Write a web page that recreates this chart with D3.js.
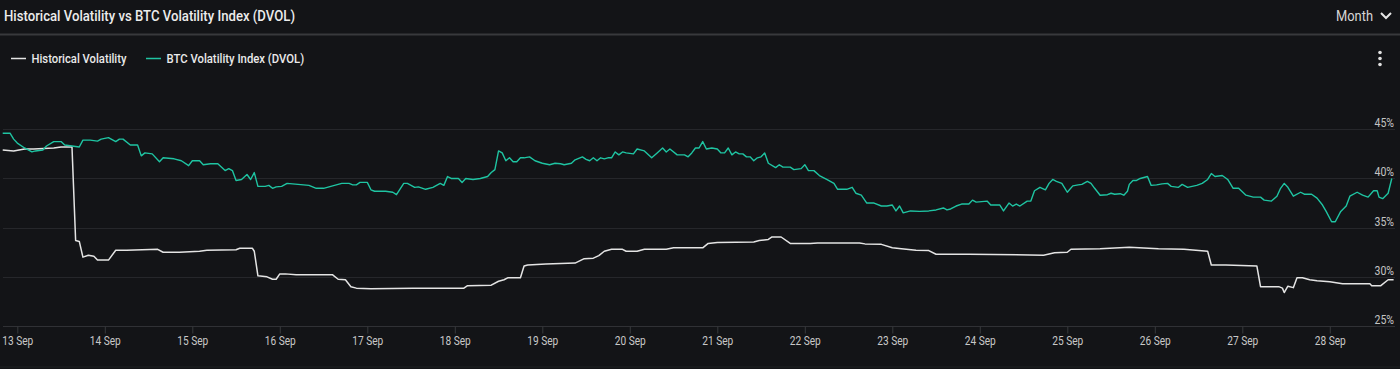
<!DOCTYPE html>
<html>
<head>
<meta charset="utf-8">
<script src="https://cdn.jsdelivr.net/npm/d3@7"></script>
<style>
  body { margin: 0; background: #131417; }
  svg { display: block; font-family: Roboto, "Noto Sans", sans-serif; }
</style>
</head>
<body>
<div id="chart"></div>
<script>
// hours counted from 13 Sep 00:00, values in %
var hvHours = [-4, -1, 2, 4.5, 10, 12, 15, 16, 17, 18, 19.5, 21, 22, 25, 27, 30, 38.5, 40, 44.5, 50, 52, 60, 61, 64.5, 65, 66, 68.5, 70, 71, 72, 73.5, 76.5, 86.5, 88, 90, 91.5, 93, 97, 108.5, 122.5, 123.5, 130, 132, 133.5, 134.5, 138, 139, 140, 145, 153, 155.5, 158, 159.5, 161, 163, 166, 167, 170, 172, 178, 180, 188, 189.5, 192, 202, 203.5, 206, 207, 209.5, 212, 217.5, 219.5, 231, 232.5, 237, 240, 242.5, 246.5, 250, 252, 261, 281.5, 284.5, 288, 289, 297, 305, 313, 320, 326.5, 327.5, 331.5, 340, 341, 346, 347, 347.5, 348.5, 350, 351, 352.5, 354.5, 356.5, 360, 363.5, 371, 371.5, 374, 376, 377.5];
var hvValues = [42.9, 42.8, 43.0, 43.0, 43.1, 43.2, 43.2, 33.7, 33.6, 32.0, 32.2, 32.1, 31.7, 31.7, 32.7, 32.7, 32.8, 32.5, 32.5, 32.6, 32.7, 32.75, 32.9, 32.9, 32.6, 30.1, 30.0, 29.75, 29.75, 30.3, 30.3, 30.2, 30.2, 29.75, 29.7, 29.0, 28.85, 28.8, 28.85, 28.85, 29.1, 29.15, 29.55, 29.7, 29.9, 29.9, 31.1, 31.2, 31.3, 31.4, 31.85, 31.9, 32.15, 32.6, 32.8, 32.8, 32.6, 32.6, 32.8, 32.8, 32.95, 32.95, 33.4, 33.5, 33.55, 33.7, 33.8, 34.05, 34.05, 33.4, 33.4, 33.45, 33.45, 33.35, 33.3, 32.95, 32.85, 32.7, 32.67, 32.3, 32.3, 32.2, 32.45, 32.5, 32.8, 32.85, 33.0, 32.85, 32.8, 32.6, 31.2, 31.2, 31.1, 29.0, 29.0, 28.85, 28.4, 29.05, 28.9, 29.9, 29.9, 29.7, 29.6, 29.5, 29.3, 29.3, 29.1, 29.1, 29.7, 29.7];

var dvolHours = [-4, -2, -1, 0, 2, 4, 5, 7, 8, 10, 12, 13, 15, 17, 18, 20, 22, 23, 25, 27, 28, 29, 31, 33, 34, 35, 37, 39, 40, 43, 45, 47, 48, 50, 51, 53, 55, 57, 58, 59, 60, 61.5, 63, 64, 65, 66, 68, 69, 70, 71, 72.5, 74, 77, 80, 82, 84, 87, 89, 91, 92, 93, 94, 96, 97, 98, 101, 103, 104, 106, 107, 109, 110, 112, 114, 116, 117, 118, 119, 121, 122, 123, 125, 127, 129, 130, 131, 132, 133, 134, 135, 136, 137, 138, 139, 140.5, 142, 144, 146, 147.5, 149, 150, 152, 153, 155, 156, 157, 158, 159, 160, 161, 162, 163, 164, 165, 166, 167, 169, 170, 172, 174, 175.5, 177, 178, 179, 181, 183, 184, 185, 186, 187, 188, 189, 190.5, 192, 193, 194, 195, 196, 197, 198, 199, 200, 201, 202, 203, 204, 205, 206, 208, 209, 210, 212, 213, 215, 216, 217, 218.5, 220, 222, 224, 225, 227.5, 229, 230, 231.5, 233, 235, 237, 238.5, 240, 241, 242, 243, 245, 247.5, 250, 252, 254, 255, 256, 257.5, 259, 261, 262, 263, 266, 267, 269.5, 270.5, 272, 273, 274, 275, 277, 278, 279, 280.5, 282, 283, 284, 285, 286.5, 288, 289.5, 291, 292, 293.5, 294.5, 295.5, 297, 299, 300, 301, 302.5, 303.5, 304.5, 305, 306, 307, 308, 310, 311, 312.5, 314, 315.5, 316.5, 318.5, 319.5, 321, 323.5, 325, 326.5, 327.5, 328.5, 330.5, 332, 333.5, 335, 337, 339, 341, 342, 344, 345.5, 346.5, 347.5, 348.5, 350, 352, 353, 355, 356.5, 358, 359, 360.5, 361.5, 363, 364.5, 365.5, 367.5, 369, 370.5, 372, 373, 373.5, 374.5, 376, 377];
var dvolValues = [44.6, 44.6, 44.0, 43.6, 43.1, 42.7, 42.8, 42.9, 43.3, 43.75, 43.75, 43.4, 43.3, 43.2, 43.9, 43.9, 43.8, 44.0, 44.15, 43.75, 44.0, 44.0, 43.4, 43.4, 42.3, 42.6, 42.5, 41.7, 42.1, 42.0, 41.8, 41.3, 41.8, 41.8, 41.4, 41.5, 41.5, 40.8, 41.0, 40.8, 39.8, 39.9, 40.4, 39.9, 40.6, 39.2, 39.2, 39.3, 39.0, 39.15, 39.2, 39.5, 39.4, 39.3, 39.0, 39.0, 39.3, 39.5, 39.5, 39.35, 39.35, 39.6, 39.6, 38.85, 38.7, 38.7, 38.6, 38.35, 39.5, 39.5, 39.1, 39.15, 38.9, 39.1, 39.5, 39.3, 40.2, 40.0, 40.0, 39.6, 40.0, 39.9, 40.0, 40.2, 40.6, 40.9, 42.8, 42.6, 41.8, 42.1, 41.7, 41.7, 42.1, 42.1, 42.2, 41.8, 41.55, 41.4, 41.55, 41.5, 41.4, 41.55, 41.9, 42.2, 41.95, 41.8, 42.1, 41.8, 42.1, 42.0, 42.1, 42.1, 42.7, 42.4, 42.7, 42.6, 42.5, 43.0, 42.8, 42.1, 42.6, 43.1, 42.7, 43.0, 42.4, 42.4, 42.2, 42.6, 43.1, 43.1, 43.75, 43.0, 43.1, 43.0, 42.6, 42.6, 43.1, 42.4, 42.7, 42.5, 42.5, 42.2, 42.2, 41.8, 42.1, 42.2, 42.6, 41.55, 41.1, 41.4, 41.15, 41.15, 40.9, 41.0, 41.4, 40.8, 40.8, 40.3, 39.9, 39.5, 38.9, 38.9, 39.1, 38.5, 38.3, 37.5, 37.5, 37.2, 37.2, 37.3, 36.7, 37.2, 36.5, 36.7, 36.65, 36.7, 36.8, 37.0, 36.8, 36.9, 37.2, 37.4, 37.4, 37.8, 37.6, 37.7, 37.3, 37.3, 36.7, 37.5, 37.2, 37.4, 37.2, 37.7, 37.7, 38.75, 39.1, 38.85, 39.5, 39.9, 39.7, 39.5, 38.6, 39.25, 39.35, 39.4, 39.7, 39.5, 39.0, 38.3, 38.35, 38.5, 38.4, 38.45, 38.3, 38.7, 39.4, 39.8, 39.8, 40.0, 40.2, 39.3, 39.35, 39.45, 39.5, 39.2, 39.1, 39.4, 39.1, 39.3, 39.5, 39.9, 40.5, 40.2, 40.3, 39.9, 39.0, 39.0, 38.3, 38.1, 38.1, 37.8, 37.7, 38.2, 39.0, 39.5, 39.1, 38.2, 38.6, 38.4, 38.4, 38.0, 37.3, 36.65, 35.6, 35.6, 36.65, 37.2, 38.2, 38.6, 38.3, 38.1, 38.75, 38.75, 38.1, 37.95, 38.5, 40.0];

var yTicks = [25, 30, 35, 40, 45];
var seriesNames = ["Historical Volatility", "BTC Volatility Index (DVOL)"];
var seriesColors = ["#e4e4e4", "#1fc4a2"];

var svgWidth = 1400;
var svgHeight = 369;
var start = Date.UTC(2023, 8, 13);
function toDate(h) { return new Date(start + h * 3600000); }

var svg = d3.select("#chart")
    .append("svg")
    .attr("width", svgWidth)
    .attr("height", svgHeight);

svg.append("rect")
    .attr("width", svgWidth)
    .attr("height", svgHeight)
    .attr("fill", "#131417");

// fit text to a width, the source screenshot is squeezed horizontally
function fit(sel, w) {
    sel.attr("textLength", w).attr("lengthAdjust", "spacingAndGlyphs");
}

// header
svg.append("text")
    .attr("x", 4)
    .attr("y", 20.5)
    .attr("fill", "#ececec")
    .attr("font-size", 15)
    .attr("font-weight", 500)
    .text("Historical Volatility vs BTC Volatility Index (DVOL)")
    .call(fit, 291);

svg.append("text")
    .attr("x", 1373)
    .attr("y", 20.5)
    .attr("text-anchor", "end")
    .attr("fill", "#d6d6d6")
    .attr("font-size", 15)
    .text("Month")
    .call(fit, 37);

svg.append("path")
    .attr("d", "M1381,13 L1386,18 L1391,13")
    .attr("fill", "none")
    .attr("stroke", "#e6e6e6")
    .attr("stroke-width", 2);

svg.append("line")
    .attr("x1", 0).attr("x2", svgWidth)
    .attr("y1", 34.5).attr("y2", 34.5)
    .attr("stroke", "#38393c")
    .attr("stroke-width", 2);

svg.append("line")
    .attr("x1", 0).attr("x2", svgWidth)
    .attr("y1", 367).attr("y2", 367)
    .attr("stroke", "#1f2023")
    .attr("stroke-width", 1);

// legend
var legendX = [11, 146];
var legendW = [95, 137.6];
var legend = svg.selectAll(".legend")
    .data(seriesNames)
    .enter()
    .append("g")
    .attr("class", "legend")
    .attr("transform", (d, i) => `translate(${legendX[i]}, 58.5)`);

legend.append("line")
    .attr("x1", 0).attr("x2", 15)
    .attr("stroke", (d, i) => seriesColors[i])
    .attr("stroke-width", 1.5);

legend.append("text")
    .attr("x", 20.5)
    .attr("y", 4.2)
    .attr("fill", "#eaeaea")
    .attr("font-size", 12.5)
    .attr("font-weight", 500)
    .text(d => d)
    .attr("textLength", (d, i) => legendW[i])
    .attr("lengthAdjust", "spacingAndGlyphs");

// menu dots
svg.selectAll(".dot")
    .data([52.5, 58.5, 64.5])
    .enter()
    .append("circle")
    .attr("cx", 1380)
    .attr("cy", d => d)
    .attr("r", 1.8)
    .attr("fill", "#e0e0e0");

// scales
var xScale = d3.scaleUtc()
    .domain([toDate(-4), toDate(377.5)])
    .range([17.3 - 4 * 87.5 / 24, 17.3 + 377.5 * 87.5 / 24]);

var yScale = d3.scaleLinear()
    .domain([25, 45])
    .range([326, 129.3]);

// gridlines + y labels
svg.selectAll(".grid")
    .data(yTicks)
    .enter()
    .append("line")
    .attr("x1", 3).attr("x2", 1395)
    .attr("y1", d => Math.round(yScale(d)) + 0.5)
    .attr("y2", d => Math.round(yScale(d)) + 0.5)
    .attr("stroke", d => d === 25 ? "#303135" : "#26272b")
    .attr("stroke-width", 1);

svg.selectAll(".ylab")
    .data(yTicks)
    .enter()
    .append("text")
    .attr("x", 1394)
    .attr("y", d => yScale(d) - 2)
    .attr("text-anchor", "end")
    .attr("fill", "#c4c4c4")
    .attr("font-size", 12)
    .text(d => d + "%")
    .call(fit, 19.5);

// x axis
var xAxis = d3.axisBottom(xScale)
    .ticks(d3.utcDay.every(1))
    .tickFormat(d3.utcFormat("%-d %b"))
    .tickSize(7)
    .tickPadding(3);

var xg = svg.append("g")
    .attr("transform", "translate(0, 326.5)")
    .call(xAxis);
xg.select(".domain").remove();
xg.selectAll(".tick line").attr("stroke", "#38393d");
xg.selectAll(".tick text")
    .attr("fill", "#c8c8c8")
    .attr("font-size", 12)
    .attr("font-family", "Roboto, 'Noto Sans', sans-serif")
    .call(fit, 31);

// lines
var hvData = hvHours.map((h, i) => ({ t: toDate(h), v: hvValues[i] }));
var dvolData = dvolHours.map((h, i) => ({ t: toDate(h), v: dvolValues[i] }));

var line = d3.line()
    .x(d => xScale(d.t))
    .y(d => yScale(d.v));

svg.append("path")
    .datum(hvData)
    .attr("fill", "none")
    .attr("stroke", seriesColors[0])
    .attr("stroke-width", 1.5)
    .attr("stroke-linejoin", "round")
    .attr("d", line);

svg.append("path")
    .datum(dvolData)
    .attr("fill", "none")
    .attr("stroke", seriesColors[1])
    .attr("stroke-width", 1.4)
    .attr("stroke-linejoin", "round")
    .attr("d", line);
</script>
</body>
</html>
